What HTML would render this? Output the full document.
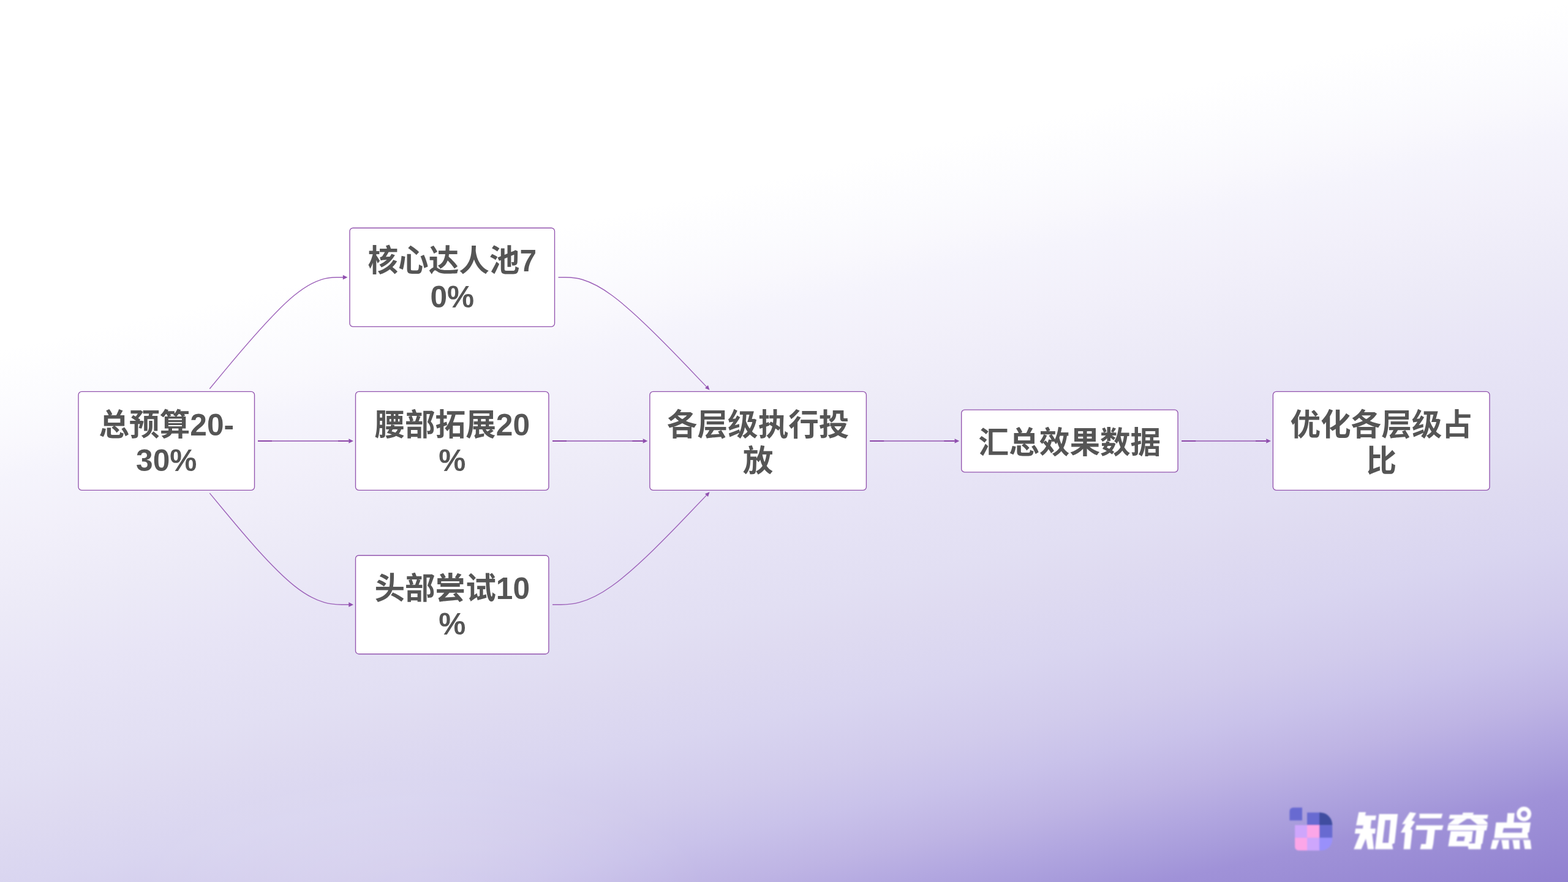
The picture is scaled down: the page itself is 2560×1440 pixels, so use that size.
<!DOCTYPE html>
<html><head><meta charset="utf-8"><title>flow</title>
<style>
html,body{margin:0;padding:0}
body{width:2560px;height:1440px;overflow:hidden;font-family:"Liberation Sans",sans-serif;background:radial-gradient(ellipse 470px 190px at 690px 1450px, rgba(255,255,255,0.15) 0%, rgba(255,255,255,0.11) 40%, rgba(255,255,255,0) 100%), linear-gradient(167.5deg, #ffffff 0%, #ffffff 28.5%, #fbfbfe 33.5%, #f9f8fd 36.2%, #f5f4fc 39%, #f2f0fa 43.5%, #eceaf7 50%, #e8e5f6 55%, #e4e1f4 60.2%, #e2dff3 63.2%, #dfdbf1 66.5%, #d9d5f0 72.2%, #d1cbec 77.5%, #c9c2ea 81%, #beb4e4 85%, #b2a7e0 88%, #a79bdb 90.8%, #a092d8 92.6%, #9c8ed6 94.5%, #9181d0 100%)}
svg{position:absolute;left:0;top:0;display:block}
#labels text{font-family:"Liberation Sans","Noto Sans CJK SC",sans-serif;font-size:49.6px;font-weight:bold;fill:#555555;text-anchor:middle}
</style></head><body>
<svg width="2560" height="1440" viewBox="0 0 2560 1440" role="img" aria-label="预算分配流程图">
<defs><filter id="soft" x="-5%" y="-20%" width="110%" height="140%"><feGaussianBlur stdDeviation="0.9"/></filter></defs>
<g id="edges">
<path d="M342.3 634.7L367.46 604.38C392.62 574.05 442.93 513.4 479.47 483.07C516 452.75 538.75 452.75 550.12 452.75L561.5 452.75" fill="none" stroke="#9b5fb8" stroke-width="1.35"/>
<path d="M559.8 456.6L567.5 452.75L559.8 448.9Z" fill="#9050af"/>
<path d="M342.3 805.1L367.46 835.45C392.62 865.8 442.93 926.5 481.05 956.85C519.17 987.2 545.08 987.2 558.04 987.2L571 987.2" fill="none" stroke="#9b5fb8" stroke-width="1.35"/>
<path d="M569.3 991.05L577 987.2L569.3 983.35Z" fill="#9050af"/>
<path d="M911.5 452.75L923.46 452.75C935.42 452.75 959.33 452.75 999.81 482.69C1040.29 512.63 1097.32 572.52 1125.84 602.46L1154.36 632.4" fill="none" stroke="#9b5fb8" stroke-width="1.35"/>
<path d="M1150.97 633.84L1158.5 636.75L1155.96 629.08Z" fill="#9050af"/>
<path d="M902 987.2L915.54 987.2C929.08 987.2 956.17 987.2 998.23 957.27C1040.29 927.35 1097.32 867.5 1125.84 837.57L1154.36 807.65" fill="none" stroke="#9b5fb8" stroke-width="1.35"/>
<path d="M1155.96 810.97L1158.5 803.3L1150.97 806.21Z" fill="#9050af"/>
<path d="M421 720H569" stroke="#a877c1" stroke-width="2" fill="none"/>
<path d="M421 720H444M552 720H569.5" stroke="#8a42a6" stroke-width="2" fill="none"/>
<path d="M569.3 723.85L577 720L569.3 716.15Z" fill="#9050af"/>
<path d="M902 720H1049.4" stroke="#a877c1" stroke-width="2" fill="none"/>
<path d="M902 720H925M1032.4 720H1049.9" stroke="#8a42a6" stroke-width="2" fill="none"/>
<path d="M1049.7 723.85L1057.4 720L1049.7 716.15Z" fill="#9050af"/>
<path d="M1420.2 720H1558.3" stroke="#a877c1" stroke-width="2" fill="none"/>
<path d="M1420.2 720H1443.2M1541.3 720H1558.8" stroke="#8a42a6" stroke-width="2" fill="none"/>
<path d="M1558.6 723.85L1566.3 720L1558.6 716.15Z" fill="#9050af"/>
<path d="M1929.2 720H2067" stroke="#a877c1" stroke-width="2" fill="none"/>
<path d="M1929.2 720H1952.2M2050 720H2067.5" stroke="#8a42a6" stroke-width="2" fill="none"/>
<path d="M2067.3 723.85L2075 720L2067.3 716.15Z" fill="#9050af"/>
</g>
<g id="boxes">
<rect x="128" y="639.4" width="287.5" height="161" rx="5.3" fill="#fff" stroke="#9253ae" stroke-width="1.35"/>
<rect x="571" y="372.2" width="334.5" height="161.1" rx="5.3" fill="#fff" stroke="#9253ae" stroke-width="1.35"/>
<rect x="580.5" y="639.4" width="315.4" height="161" rx="5.3" fill="#fff" stroke="#9253ae" stroke-width="1.35"/>
<rect x="580.5" y="906.7" width="315.4" height="161" rx="5.3" fill="#fff" stroke="#9253ae" stroke-width="1.35"/>
<rect x="1060.9" y="639.4" width="353.5" height="161" rx="5.3" fill="#fff" stroke="#9253ae" stroke-width="1.35"/>
<rect x="1569.7" y="669.1" width="353.4" height="101.8" rx="5.3" fill="#fff" stroke="#9253ae" stroke-width="1.35"/>
<rect x="2078.4" y="639.4" width="353.6" height="161" rx="5.3" fill="#fff" stroke="#9253ae" stroke-width="1.35"/>
</g>
<g id="labels" fill="#555555">
<g>
<text x="271.75" y="710.5">总预算20-</text>
<text x="271.75" y="768.8">30%</text>
</g>
<g>
<text x="738.25" y="443.4">核心达人池7</text>
<text x="738.25" y="501.65">0%</text>
</g>
<g>
<text x="738.2" y="710.5">腰部拓展20</text>
<text x="738.2" y="768.8">%</text>
</g>
<g>
<text x="738.2" y="977.8">头部尝试10</text>
<text x="738.2" y="1036.1">%</text>
</g>
<g>
<text x="1237.65" y="710.5">各层级执行投</text>
<text x="1237.65" y="769.6">放</text>
</g>
<g>
<text x="1746.4" y="740.2">汇总效果数据</text>
</g>
<g>
<text x="2255.2" y="710.5">优化各层级占</text>
<text x="2255.2" y="769.6">比</text>
</g>
</g>
<g id="icon" filter="url(#soft)">
<path d="M2105.4 1339.5V1324.4a6 6 0 0 1 6-6H2126V1339.5Z" fill="#686bd1"/>
<rect x="2134" y="1326.6" width="20.2" height="20.6" fill="#686bd1"/>
<path d="M2154 1326.6h1.2a20 20 0 0 1 20 20v0.6H2154Z" fill="#3f4ea0"/>
<rect x="2114.1" y="1347.1" width="20" height="20.8" fill="#cea6fc"/>
<rect x="2134" y="1347.1" width="20.2" height="20.8" fill="#fca6e8"/>
<rect x="2154" y="1347.1" width="21.2" height="20.8" fill="#686bd1"/>
<path d="M2114.1 1367.8H2134V1388.6H2120.1a6 6 0 0 1-6-6Z" fill="#fca6e8"/>
<rect x="2134" y="1367.8" width="20.2" height="20.8" fill="#cea6fc"/>
<path d="M2154 1367.8h21.2v2.8a18 18 0 0 1-18 18H2154Z" fill="#9990fb"/>
</g>
<g id="wordmark" role="img" aria-label="知行奇点" fill="#fff" filter="url(#soft)">
<polygon points="2218.44,1326.12 2230,1326.12 2225.62,1347.38 2214.06,1347.38"/>
<polygon points="2225.62,1331.44 2246.88,1331.44 2245.62,1338.94 2223.75,1338.94"/>
<polygon points="2226.56,1338.62 2239.06,1338.62 2237.5,1353 2225,1353"/>
<polygon points="2213.12,1352.69 2245.94,1352.69 2245,1361.12 2211.88,1361.12"/>
<polygon points="2220.62,1361.12 2233.44,1361.12 2222.5,1386.44 2210.31,1386.44"/>
<polygon points="2230,1361.12 2240.31,1361.12 2243.12,1386.44 2233.12,1386.44 2229.69,1368"/>
<path fill-rule="evenodd" d="M2251.56,1328.94L2282.19,1328.94L2276.88,1376.44L2272.81,1378.31L2274.38,1386.44L2245,1386.44ZM2261.56,1338.94L2270.31,1338.94L2266.88,1376.12L2257.19,1376.12Z"/>
<polygon points="2301.88,1326.12 2312.19,1327.38 2305,1339.25 2298.75,1345.5 2289.06,1345.5"/>
<polygon points="2294.69,1345.5 2305,1339.56 2310.31,1341.75 2302.81,1353 2305.94,1355.5 2302.5,1386.44 2291.56,1386.44 2294.06,1359.25 2286.88,1359.25"/>
<polygon points="2317.5,1328.62 2355.31,1328.62 2353.12,1336.12 2317.5,1336.12"/>
<polygon points="2312.19,1347.38 2356.56,1347.38 2354.38,1354.88 2311.25,1354.88"/>
<polygon points="2330.62,1354.56 2342.81,1354.56 2340,1378 2338.12,1386.44 2318.44,1386.44 2320.31,1378 2327.81,1378"/>
<polygon points="2388.44,1326.75 2405.94,1326.75 2405,1330.5 2387.5,1330.5"/>
<polygon points="2367.19,1330.19 2429.69,1330.19 2428.12,1336.75 2365.62,1336.75"/>
<polygon points="2375.62,1336.44 2395.62,1336.44 2380.62,1346.31 2363.75,1346.31"/>
<polygon points="2400,1336.44 2420.62,1336.44 2428.44,1342.69 2428.75,1346.31 2412.19,1346.31"/>
<polygon points="2364.38,1347 2428.75,1347 2426.88,1355.75 2362.81,1355.75"/>
<polygon points="2410.31,1355.19 2423.75,1355.19 2420.31,1377.06 2418.44,1378.31 2417.5,1386.44 2397.5,1386.44 2396.56,1380.5 2398.75,1377.06 2408.12,1377.06"/>
<path fill-rule="evenodd" d="M2368.44,1356.88L2404.69,1356.88L2402.5,1374.56L2398.75,1374.56L2398.75,1381.75L2364.38,1381.75ZM2379.69,1365.81L2391.88,1365.81L2390.31,1373.31L2377.81,1373.31Z"/>
<polygon points="2461.25,1327.38 2472.81,1327.38 2471.25,1343.62 2460,1343.62"/>
<polygon points="2436.88,1371.44 2447.81,1371.44 2442.5,1386.25 2433.44,1386.25"/>
<polygon points="2451.25,1371.44 2463.44,1371.44 2464.06,1386.25 2453.75,1386.25"/>
<polygon points="2469.38,1371.44 2480.94,1371.44 2481.56,1386.25 2471.88,1386.25"/>
<polygon points="2486.88,1371.44 2498.44,1371.44 2500.31,1386.25 2489.38,1386.25"/>
<path fill-rule="evenodd" d="M2442.5,1342.69L2499.06,1342.69L2496.56,1358.62L2494.06,1359.88L2495.31,1368L2439.38,1368ZM2455,1352.06L2485.62,1352.06L2484.69,1359.56L2453.12,1359.56Z"/>
<polygon opacity="0.3" points="2439.38,1368 2495.31,1368 2498.12,1371.44 2436.88,1371.44"/>
<circle cx="2488.12" cy="1328.94" r="8.6" fill="none" stroke="#fff" stroke-width="6.6"/>
</g>
</svg>
</body></html>
